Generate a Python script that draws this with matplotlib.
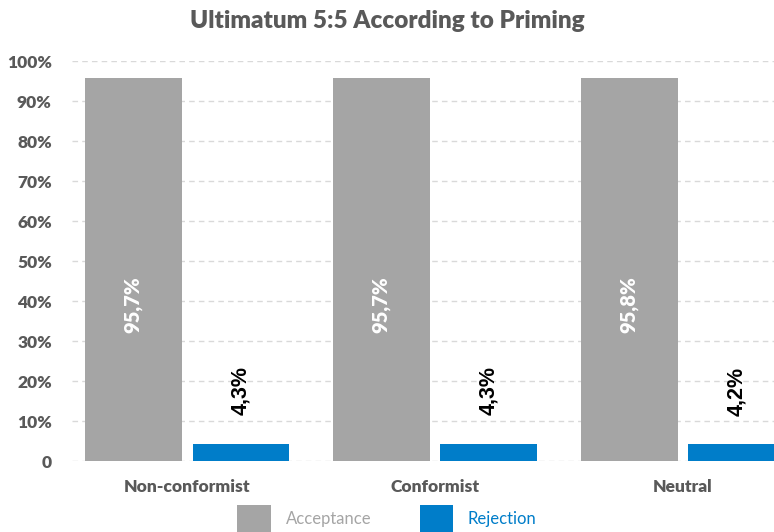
import matplotlib
matplotlib.use("Agg")
import matplotlib.pyplot as plt
import numpy as np

categories = ["Non-conformist", "Conformist", "Neutral"]
acceptance = [95.7, 95.7, 95.8]
rejection = [4.3, 4.3, 4.2]
acc_labels = ["95,7%", "95,7%", "95,8%"]
rej_labels = ["4,3%", "4,3%", "4,2%"]
yticks = [0, 10, 20, 30, 40, 50, 60, 70, 80, 90, 100]
ytick_labels = ["0", "10%", "20%", "30%", "40%", "50%", "60%", "70%", "80%", "90%", "100%"]

plt.rcParams['font.family'] = ['Lato', 'DejaVu Sans']

fig = plt.figure(figsize=(7.74, 5.32), dpi=100)
ax = fig.add_axes([72/774, (532-461)/532, 1 - 72/774, 400/532])

x = np.arange(len(categories))
off = 0.217
w = 0.39
gray = "#a5a5a5"
blue = "#007dc9"
ax.bar(x - off, acceptance, w, color=gray, zorder=2, label="Acceptance")
ax.bar(x + off, rejection, w, color=blue, zorder=2, label="Rejection")

for i in range(len(categories)):
    ax.text(x[i] - off, 39, acc_labels[i], rotation=90, ha="center", va="center",
            color="white", fontsize=14.5, fontweight="heavy", zorder=3)
    ax.text(x[i] + off, rejection[i] + 13.3, rej_labels[i], rotation=90, ha="center", va="center",
            color="black", fontsize=15.5, fontweight="bold", zorder=3,
            family=["Liberation Sans", "DejaVu Sans"])

ax.set_xlim(-0.464, 2.367)
ax.set_ylim(0, 100)
ax.set_yticks(yticks)
ax.set_yticklabels(ytick_labels)
ax.set_xticks(x)
ax.set_xticklabels(categories)
ax.grid(axis="y", color="#d9d9d9", linestyle=(0, (4, 3)), linewidth=1, zorder=0)
for s in ax.spines.values():
    s.set_visible(False)
ax.tick_params(axis="both", length=0, colors="#595959", labelsize=12.5)
ax.tick_params(axis="y", pad=14.5)
ax.tick_params(axis="x", pad=13)
for t in ax.get_xticklabels() + ax.get_yticklabels():
    t.set_fontweight("heavy")
    t.set_color("#595959")

fig.text(0.5, 0.96, "Ultimatum 5:5 According to Priming", ha="center", va="center",
         fontsize=17.5, fontweight="heavy", color="#595959")

leg = fig.legend(handles=ax.patches[0:1] + ax.patches[3:4], labels=["Acceptance", "Rejection"],
                 loc="center", bbox_to_anchor=(0.5, 0.025), ncol=2, frameon=False,
                 fontsize=12, handlelength=2.0, handleheight=2.1, columnspacing=2.9, handletextpad=0.9)
for t, c in zip(leg.get_texts(), ["#a5a5a5", blue]):
    t.set_color(c)

fig.savefig("out.png", dpi=100)
